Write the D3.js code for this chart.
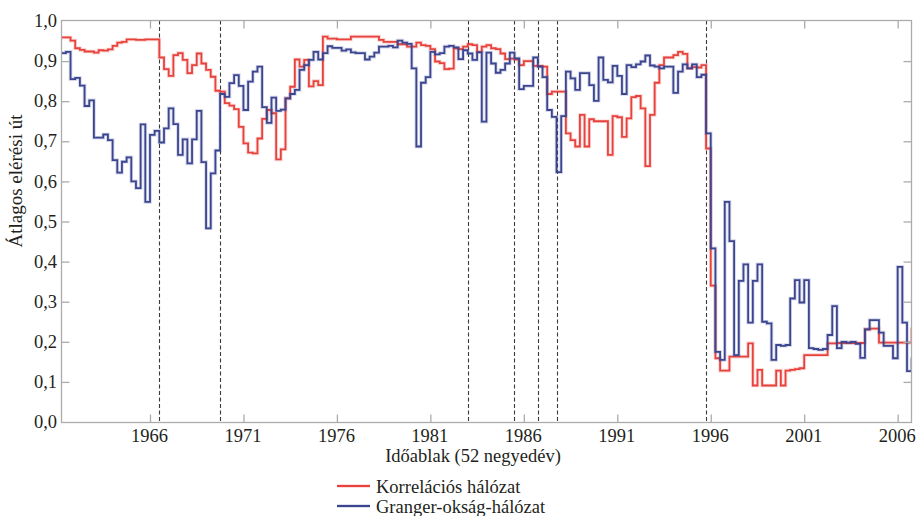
<!DOCTYPE html>
<html>
<head>
<meta charset="utf-8">
<script src="https://cdn.jsdelivr.net/npm/d3@7"></script>
<style>
  html, body { margin: 0; padding: 0; background: #fff; }
  svg { display: block; }
  text { font-family: "Liberation Serif", "Times New Roman", serif; fill: #231f20; }
</style>
</head>
<body>
<svg id="chart" width="917" height="516"></svg>
<script>
// ---- data (quarterly time windows, first window dated 1961.25) ----
const firstQuarter = 1961.25;
const lastDomain = 2006.74;

const korrelacios = [
  0.959,0.959,0.951,0.932,0.928,0.924,0.924,0.921,0.927,0.926,
  0.929,0.938,0.946,0.948,0.954,0.954,0.953,0.953,0.954,0.954,
  0.954,0.909,0.880,0.863,0.915,0.920,0.903,0.870,0.890,0.919,
  0.894,0.878,0.861,0.826,0.824,0.795,0.789,0.780,0.736,0.695,
  0.672,0.670,0.707,0.756,0.778,0.770,0.655,0.680,0.807,0.836,
  0.904,0.886,0.903,0.837,0.850,0.840,0.961,0.956,0.956,0.954,
  0.954,0.954,0.961,0.961,0.961,0.961,0.961,0.961,0.953,0.948,
  0.948,0.948,0.942,0.942,0.936,0.936,0.946,0.940,0.938,0.930,
  0.899,0.895,0.880,0.881,0.932,0.930,0.936,0.942,0.940,0.923,
  0.936,0.940,0.932,0.930,0.919,0.905,0.906,0.904,0.890,0.900,
  0.900,0.888,0.888,0.886,0.818,0.824,0.824,0.824,0.720,0.703,
  0.687,0.766,0.687,0.755,0.750,0.750,0.750,0.666,0.763,0.760,
  0.711,0.757,0.810,0.813,0.782,0.638,0.766,0.846,0.890,0.909,
  0.909,0.915,0.923,0.918,0.882,0.885,0.884,0.890,0.682,0.340,
  0.159,0.128,0.128,0.163,0.163,0.163,0.163,0.196,0.091,0.130,
  0.091,0.091,0.091,0.128,0.091,0.128,0.130,0.132,0.134,0.167,
  0.167,0.167,0.167,0.167,0.196,0.196,0.197,0.197,0.197,0.197,
  0.197,0.197,0.231,0.233,0.233,0.198,0.198,0.198,0.198,0.198,
  0.198,0.198,0.231
];

const granger = [
  0.920,0.923,0.855,0.858,0.839,0.788,0.802,0.709,0.709,0.717,
  0.703,0.653,0.622,0.649,0.660,0.600,0.583,0.742,0.549,0.716,
  0.726,0.697,0.732,0.782,0.743,0.666,0.705,0.645,0.705,0.776,
  0.648,0.483,0.620,0.677,0.818,0.811,0.845,0.865,0.838,0.778,
  0.849,0.874,0.886,0.785,0.746,0.809,0.776,0.779,0.807,0.818,
  0.828,0.878,0.890,0.903,0.923,0.904,0.920,0.937,0.933,0.933,
  0.926,0.929,0.922,0.920,0.920,0.904,0.911,0.921,0.936,0.936,
  0.938,0.934,0.951,0.946,0.943,0.882,0.687,0.846,0.860,0.923,
  0.917,0.920,0.936,0.938,0.934,0.905,0.927,0.919,0.903,0.922,
  0.749,0.921,0.894,0.871,0.878,0.894,0.921,0.907,0.830,0.838,
  0.838,0.909,0.886,0.860,0.778,0.761,0.623,0.763,0.874,0.857,
  0.828,0.870,0.870,0.840,0.801,0.909,0.853,0.847,0.888,0.863,
  0.818,0.890,0.885,0.892,0.899,0.914,0.889,0.886,0.882,0.886,
  0.886,0.821,0.874,0.892,0.882,0.892,0.860,0.866,0.720,0.433,
  0.175,0.155,0.549,0.451,0.167,0.352,0.393,0.248,0.352,0.393,
  0.250,0.246,0.155,0.192,0.190,0.192,0.308,0.354,0.298,0.354,
  0.184,0.182,0.180,0.182,0.217,0.289,0.184,0.200,0.198,0.200,
  0.195,0.160,0.231,0.254,0.254,0.223,0.190,0.190,0.159,0.387,
  0.248,0.127,0.157
];

const xTicks = [1966, 1971, 1976, 1981, 1986, 1991, 1996, 2001, 2006];
const yTicks = [0, 0.1, 0.2, 0.3, 0.4, 0.5, 0.6, 0.7, 0.8, 0.9, 1.0];
const breakDates = [1966.5, 1969.75, 1983.0, 1985.5, 1986.75, 1987.75, 1995.75];

const seriesNames = ["Korrelációs hálózat", "Granger-okság-hálózat"];
const seriesColors = ["#e8423d", "#3b4590"];

// ---- layout ----
const svg = d3.select("#chart");
const L = 61.5, R = 911.5, T = 20.5, B = 422.5;

const x = d3.scaleLinear().domain([firstQuarter, lastDomain]).range([L - 0.3, R]);
const y = d3.scaleLinear().domain([0, 1]).range([422, 21]);

const frameColor = "#ababab";

svg.append("defs").append("clipPath").attr("id", "plotclip")
  .append("rect").attr("x", L).attr("y", T - 2).attr("width", R - L).attr("height", B - T + 4);

// dashed break lines
svg.append("g").selectAll("line").data(breakDates).join("line")
  .attr("x1", d => Math.round(x(d)) + 0.5).attr("x2", d => Math.round(x(d)) + 0.5)
  .attr("y1", T).attr("y2", B)
  .attr("stroke", "#3a3a3a").attr("stroke-width", 1.1)
  .attr("stroke-dasharray", "4,2.5");

// series
function toPoints(vals) {
  const pts = vals.map((v, i) => [firstQuarter + 0.25 * i, v]);
  pts.push([lastDomain + 0.05, vals[vals.length - 1]]);
  return pts;
}
const line = d3.line().x(d => x(d[0])).y(d => y(d[1])).curve(d3.curveStepAfter);

const gLines = svg.append("g").attr("clip-path", "url(#plotclip)");
[korrelacios, granger].forEach((vals, k) => {
  const pts = toPoints(vals);
  gLines.append("path").datum(pts).attr("d", line)
    .attr("fill", "none").attr("stroke", seriesColors[k])
    .attr("stroke-width", 3.6).attr("stroke-opacity", 0.22)
    .attr("stroke-linejoin", "miter");
  gLines.append("path").datum(pts).attr("d", line)
    .attr("fill", "none").attr("stroke", seriesColors[k])
    .attr("stroke-width", 1.8).attr("stroke-linejoin", "miter");
});

// frame
svg.append("rect").attr("x", L).attr("y", T).attr("width", R - L).attr("height", B - T)
  .attr("fill", "none").attr("stroke", frameColor).attr("stroke-width", 1.3);

// inward ticks on all four sides, drawn with d3 axes
const xAxisB = d3.axisTop(x).tickValues(xTicks).tickSize(8).tickFormat("");
const gxb = svg.append("g").attr("transform", `translate(0,${B})`).call(xAxisB);
const xAxisT = d3.axisBottom(x).tickValues(xTicks).tickSize(8).tickFormat("");
const gxt = svg.append("g").attr("transform", `translate(0,${T})`).call(xAxisT);
const yAxisL = d3.axisRight(y).tickValues(yTicks.slice(1, -1)).tickSize(8).tickFormat("");
const gyl = svg.append("g").attr("transform", `translate(${L},0)`).call(yAxisL);
const yAxisR = d3.axisLeft(y).tickValues(yTicks.slice(1, -1)).tickSize(8).tickFormat("");
const gyr = svg.append("g").attr("transform", `translate(${R},0)`).call(yAxisR);
[gxb, gxt, gyl, gyr].forEach(g => {
  g.select(".domain").remove();
  g.selectAll(".tick line").attr("stroke", frameColor).attr("stroke-width", 1.3);
});

// tick labels
svg.append("g").selectAll("text").data(xTicks).join("text")
  .attr("x", d => x(d) - 0.5).attr("y", 441.5)
  .attr("text-anchor", "middle").attr("font-size", 18.5)
  .text(d => d);

const fmt = d => d3.format(".1f")(d).replace(".", ",");
svg.append("g").selectAll("text").data(yTicks).join("text")
  .attr("x", 57).attr("y", d => y(d)).attr("dy", "0.33em")
  .attr("text-anchor", "end").attr("font-size", 18.5)
  .text(fmt);

// axis titles
svg.append("text").attr("x", 473).attr("y", 462)
  .attr("text-anchor", "middle").attr("font-size", 18.5)
  .text("Időablak (52 negyedév)");

svg.append("text")
  .attr("transform", "translate(22,181) rotate(-90)")
  .attr("text-anchor", "middle").attr("font-size", 19)
  .text("Átlagos elérési út");

// legend
const legend = svg.append("g");
seriesNames.forEach((name, k) => {
  const ly = 486 + k * 20;
  legend.append("line").attr("x1", 337).attr("x2", 370).attr("y1", ly).attr("y2", ly)
    .attr("stroke", seriesColors[k]).attr("stroke-width", 3.6).attr("stroke-opacity", 0.22);
  legend.append("line").attr("x1", 337).attr("x2", 370).attr("y1", ly).attr("y2", ly)
    .attr("stroke", seriesColors[k]).attr("stroke-width", 1.8);
  legend.append("text").attr("x", 376).attr("y", ly + 6.5)
    .attr("font-size", 18.5).text(name);
});
</script>
</body>
</html>
